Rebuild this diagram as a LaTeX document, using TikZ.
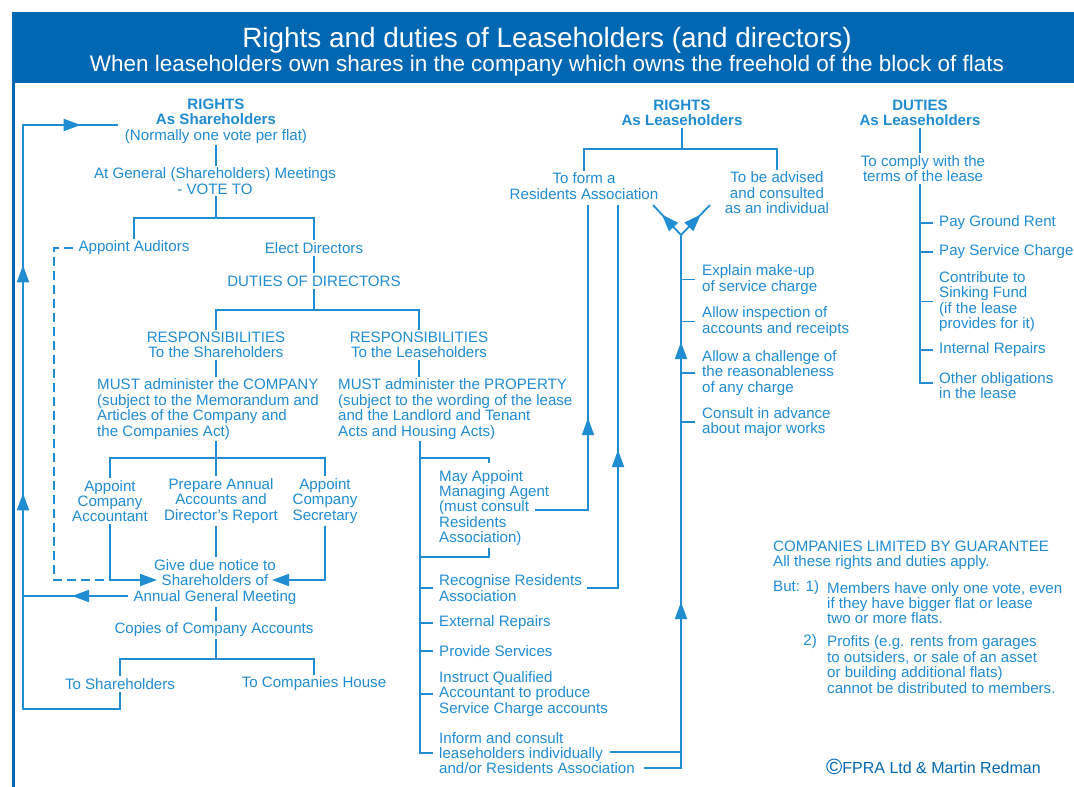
\documentclass[tikz,border=0pt]{standalone}
\usepackage{fontspec}
\setmainfont{Liberation Sans}
\usetikzlibrary{arrows.meta,decorations.markings}
\definecolor{cb}{RGB}{32,140,210}
\definecolor{hb}{RGB}{0,104,178}
\newcommand\bodyf{\fontsize{15.1}{15.4}\selectfont}
\tikzset{tri/.tip={Triangle[length=17pt,width=12pt]}}
\begin{document}
\begin{tikzpicture}[x=1pt,y=-1pt,
 ln/.style={draw=cb,line width=1.8pt},
 dsh/.style={ln,dash pattern=on 9pt off 5pt},
 tx/.style={text=cb,font=\bodyf,inner sep=2pt,align=center},
 txl/.style={tx,align=left,anchor=west},
 ar/.style={postaction={decorate,decoration={markings,mark=at position #1 with {\arrow{tri}}}}},
]
\useasboundingbox (0,0) rectangle (1074,787);
\fill[white] (0,0) rectangle (1074,787);
\fill[hb] (12,12) rectangle (1074,83);
\draw[hb,line width=2.5pt] (13.25,83) -- (13.25,787);
\node[white,font=\fontsize{27.9}{30}\selectfont,inner sep=0pt] (title) at (547,40) {Rights and duties of Leaseholders (and directors)};
\node[white,font=\fontsize{22.5}{24}\selectfont,inner sep=0pt] (sub) at (547,66) {When leaseholders own shares in the company which owns the freehold of the block of flats};

% ---------- left column ----------
\node[tx] (rsh) at (216,121) {\textbf{RIGHTS}\\\textbf{As Shareholders}\\(Normally one vote per flat)};
\node[tx] (agm) at (215,181) {At General (Shareholders) Meetings\\- VOTE TO};
\node[tx] (aud) at (134,248) {Appoint Auditors};
\node[tx] (eld) at (314,248) {Elect Directors};
\node[tx] (dod) at (314,281) {DUTIES OF DIRECTORS};
\node[tx] (rsS) at (216,345) {RESPONSIBILITIES\\To the Shareholders};
\node[tx] (rsL) at (419,345) {RESPONSIBILITIES\\To the Leaseholders};
\node[txl] (mc) at (95,409) {MUST administer the COMPANY\\(subject to the Memorandum and\\Articles of the Company and\\the Companies Act)};
\node[txl] (mp) at (336,409) {MUST administer the PROPERTY\\(subject to the wording of the lease\\and the Landlord and Tenant\\Acts and Housing Acts)};
\node[tx] (acc) at (110,501) {Appoint\\Company\\Accountant};
\node[tx] (prep) at (221,501) {Prepare Annual\\Accounts and\\Director’s Report};
\node[tx] (sec) at (325,501) {Appoint\\Company\\Secretary};
\node[tx] (gdn) at (215,582) {Give due notice to\\Shareholders of\\Annual General Meeting};
\node[tx] (cca) at (214,630) {Copies of Company Accounts};
\node[tx] (tsh) at (120,684) {To Shareholders};
\node[tx] (tch) at (314,684) {To Companies House};

\coordinate (j1) at (216,218);
\coordinate (j2) at (314,310);
\coordinate (j3) at (216,458);
\coordinate (j4) at (216,659);
\coordinate (gL) at (157,580);
\coordinate (gR) at (272,580);
\coordinate (dB) at (54,580);
\coordinate (aL) at (128,596);
\coordinate (lb) at (23,709);
\coordinate (lt) at (23,125);
\coordinate (rshL) at (118,125);

\draw[ln] (rsh.south) -- (rsh.south |- agm.north);
\draw[ln] (agm.south -| j1) -- (j1);
\draw[ln] (aud.north) |- (j1) -| (eld.north);
\draw[ln] (eld) -- (dod);
\draw[ln] (dod) -- (j2);
\draw[ln] (rsS.north) |- (j2) -| (rsL.north);
\draw[ln] (rsS.south) -- (rsS.south |- mc.north);
\draw[ln] (rsL.south) -- (rsL.south |- mp.north);
\draw[ln] (j3 |- mc.south) -- (prep.north -| j3);
\draw[ln] (acc.north) |- (j3) -| (sec.north);
\draw[ln,-tri] (acc.south) |- (gL);
\draw[ln,-tri] (sec.south) |- (gR);
\draw[ln] (prep.south -| j3) -- (gdn.north -| j3);
\draw[dsh] ([xshift=-3pt]aud.west) -| (dB) -- (acc.south |- dB);
\draw[ln,ar=56pt] (aL) -- (aL -| lt);
\draw[ln] (gdn.south -| j4) -- (cca.north -| j4);
\draw[ln] (cca.south -| j4) -- (j4);
\draw[ln] (tsh.north) |- (j4) -| (tch.north);
\draw[ln,ar=330pt,ar=558pt,ar=756pt] (tsh.south) |- (lb) -- (lt) -- (rshL);

% ---------- middle column ----------
\node[txl] (ma) at (437,508) {May Appoint\\Managing Agent\\(must consult\\Residents\\Association)};
\node[txl] (rra) at (437,588) {Recognise Residents\\Association};
\node[txl] (ext) at (437,623) {External Repairs};
\node[txl] (prov) at (437,651) {Provide Services};
\node[txl] (iqa) at (437,694) {Instruct Qualified\\Accountant to produce\\Service Charge accounts};
\node[txl] (inf) at (437,753) {Inform and consult\\leaseholders individually\\and/or Residents Association};

\coordinate (spT) at (420,458);
\coordinate (spB) at (420,753);
\coordinate (maT) at (489,463);
\coordinate (maB) at (489,548);
\coordinate (mbk) at (420,557);
\coordinate (maR) at (535,510);
\coordinate (rrR) at (587,588);
\coordinate (iR1) at (610,752);
\coordinate (iR2) at (644,768);
\coordinate (vs) at (681,235);
\coordinate (vL) at (653,205);
\coordinate (vR) at (710,205);

\draw[ln] (spT |- mp.south) -- (spB) -- ([xshift=-4pt]inf.west);
\draw[ln] (spT) -| (maT);
\draw[ln] (maB) |- (mbk);
\foreach \n in {rra,ext,prov,iqa}{\draw[ln] (spB |- \n.west) -- ([xshift=-4pt]\n.west);}

\node[tx] (rl) at (682,113) {\textbf{RIGHTS}\\\textbf{As Leaseholders}};
\node[tx] (fra) at (584,186) {To form a\\Residents Association};
\node[tx] (adv) at (777,193) {To be advised\\and consulted\\as an individual};
\coordinate (j5) at (682,149);
\draw[ln] (rl.south) -- (j5);
\draw[ln] (fra.north) |- (j5) -| (adv.north);

\draw[ln,ar=145pt] (maR) -| ([xshift=4pt,yshift=-4pt]fra.south);
\draw[ln,ar=169pt] (rrR) -| ([xshift=34pt,yshift=-4pt]fra.south);
\draw[ln] (iR1) -- (iR1 -| vs);
\draw[ln,ar=203pt,ar=463pt] (iR2) -| (vs);
\draw[ln,ar=0.68] (vs) -- (vL);
\draw[ln,ar=0.68] (vs) -- (vR);

\node[txl] (exp) at (700,279.5) {Explain make-up\\of service charge};
\node[txl] (ains) at (700,321.5) {Allow inspection of\\accounts and receipts};
\node[txl] (chal) at (700,373) {Allow a challenge of\\the reasonableness\\of any charge};
\node[txl] (cons) at (700,422) {Consult in advance\\about major works};
\foreach \n in {exp,ains,chal,cons}{\draw[ln] (vs |- \n.west) -- ([xshift=-5pt]\n.west);}

% ---------- right column ----------
\node[tx] (dl) at (920,113) {\textbf{DUTIES}\\\textbf{As Leaseholders}};
\node[tx] (comp) at (923,168.5) {To comply with the\\terms of the lease};
\node[txl] (pgr) at (937,223) {Pay Ground Rent};
\node[txl] (psc) at (937,252) {Pay Service Charge};
\node[txl] (csf) at (937,301.5) {Contribute to\\Sinking Fund\\(if the lease\\provides for it)};
\node[txl] (ir) at (937,350) {Internal Repairs};
\node[txl] (oo) at (937,385.5) {Other obligations\\in the lease};
\coordinate (dsp) at (920,383);
\coordinate (ooT) at (933,383);
\draw[ln] (dl.south -| dsp) -- (comp.north -| dsp);
\draw[ln] (comp.south -| dsp) -- (dsp) -- (ooT);
\foreach \n in {pgr,psc,csf,ir}{\draw[ln] (dsp |- \n.west) -- ([xshift=-4pt]\n.west);}

% ---------- note ----------
\node[txl] (clg) at (771,555.5) {COMPANIES LIMITED BY GUARANTEE\\All these rights and duties apply.};
\node[txl] (but) at (771,588) {But: 1)};
\node[txl] (n1) at (825,603) {Members have only one vote, even\\if they have bigger flat or lease\\two or more flats.};
\node[tx,anchor=east] (two) at (819,642) {2)};
\node[txl] (n2) at (825,664.5) {Profits (e.g. rents from garages\\to outsiders, or sale of an asset\\or building additional flats)\\cannot be distributed to members.};
\node[text=hb,font=\fontsize{16}{18}\selectfont,anchor=west,inner sep=0pt] (cp) at (826,767) {\raisebox{-1.5pt}{\fontsize{22}{22}\selectfont ©}FPRA Ltd \& Martin Redman};
\end{tikzpicture}
\end{document}
